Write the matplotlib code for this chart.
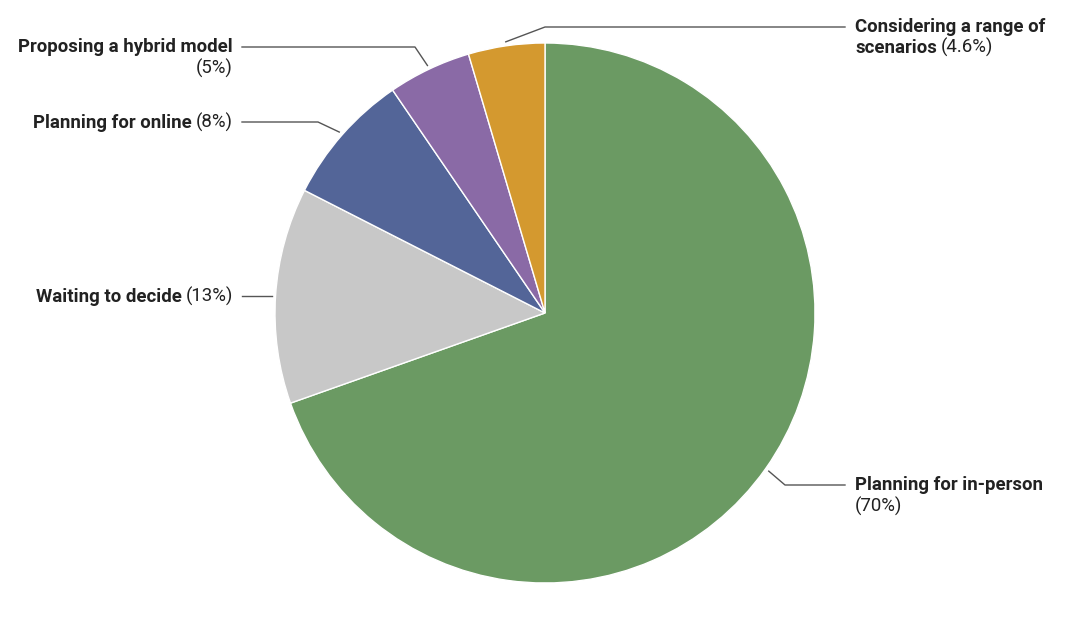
import numpy as np
import matplotlib.pyplot as plt

plt.rcParams['font.family'] = ['Roboto', 'DejaVu Sans']

# Данные
names = ['Planning for in-person', 'Waiting to decide', 'Planning for online',
         'Proposing a hybrid model', 'Considering a range of\nscenarios']
shares = [70, 13, 8, 5, 4.6]
colors = ['#6b9a63', '#c8c8c8', '#536598', '#8a6aa6', '#d4992f']
pct_on_new_line = [True, False, False, True, False]

# Раскладка подписей: (x, y первой строки, выравнивание, x излома линии)
layout = [
    (855, 485, 'left', 785),
    (233, 296, 'right', None),
    (233, 122, 'right', 318),
    (233, 47, 'right', 415),
    (855, 27, 'left', 545),
]

cx, cy, R = 545, 313, 270
fs = 13.4
line_h = 21

fig = plt.figure(figsize=(10.8, 6.29), dpi=100)
ax = fig.add_axes([0, 0, 1, 1])

wedges, _ = ax.pie(shares, colors=colors, startangle=-90, counterclock=True,
                   center=(cx, cy), radius=R,
                   wedgeprops=dict(edgecolor='white', linewidth=1))
ax.set_xlim(0, 1080)
ax.set_ylim(629, 0)
ax.set_aspect('equal')
ax.axis('off')


def draw_line(x, y, bold, normal, ha):
    kw = dict(fontsize=fs, color='#222222')
    if not normal:
        ax.text(x, y, bold, ha=ha, va='center', fontweight='bold', **kw)
        return
    if not bold:
        ax.text(x, y, normal, ha=ha, va='center', **kw)
        return
    if ha == 'left':
        t = ax.text(x, y, bold, ha='left', va='center', fontweight='bold', **kw)
        ax.annotate(normal, xy=(1, 0), xycoords=t, xytext=(3, 0),
                    textcoords='offset points', ha='left', va='bottom', **kw)
    else:
        t = ax.text(x, y, normal, ha='right', va='center', **kw)
        ax.annotate(bold, xy=(0, 0), xycoords=t, xytext=(-3, 0),
                    textcoords='offset points', ha='right', va='bottom',
                    fontweight='bold', **kw)


for w, name, v, newline, (tx, ty, ha, ex) in zip(wedges, names, shares,
                                                  pct_on_new_line, layout):
    pct = f'({v:g}%)'
    lines = name.split('\n')
    if newline:
        lines.append('')
    for i, ln in enumerate(lines):
        normal = pct if i == len(lines) - 1 else ''
        draw_line(tx, ty + i * line_h, ln, normal, ha)

    # выноска
    ang = np.deg2rad((w.theta1 + w.theta2) / 2)
    sx = cx + (R + 4) * np.cos(ang)
    sy = cy + (R + 4) * np.sin(ang)
    lx = tx - 10 if ha == 'left' else tx + 9
    if ex is None:
        ax.plot([sx, lx], [ty, ty], color='#555555', lw=1)
    else:
        ax.plot([sx, ex, lx], [sy, ty, ty], color='#555555', lw=1)

fig.savefig('out.png', dpi=100)
